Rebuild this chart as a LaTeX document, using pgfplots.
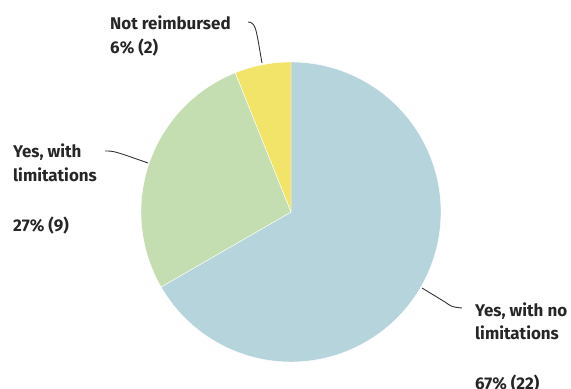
\documentclass[border=0pt]{standalone}
\usepackage{fontspec}
\setmainfont{Fira Sans}
\usepackage{pgfplots}
\pgfplotsset{compat=1.18}
\definecolor{sliceblue}{RGB}{182,212,220}
\definecolor{slicegreen}{RGB}{196,222,178}
\definecolor{sliceyellow}{RGB}{242,228,104}
\definecolor{leader}{RGB}{51,51,51}
\begin{document}
\begin{tikzpicture}
\useasboundingbox (0,0) rectangle (571bp,389bp);
\begin{axis}[
  at={(0,0)}, anchor=south west,
  scale only axis, width=571bp, height=389bp,
  xmin=0, xmax=571, ymin=0, ymax=389,
  hide axis, clip=false,
]
% values: Yes, with no limitations = 22; Yes, with limitations = 9; Not reimbursed = 2
\def\vA{22}\def\vB{9}\def\vC{2}
\def\tot{33}
\def\cx{291}\def\cy{177}\def\r{150}
\addplot[fill=sliceblue, draw=white, line width=0.4pt, domain={90-360*\vA/\tot}:90, samples=120, variable=\t]
  ({\cx+\r*cos(\t)},{\cy+\r*sin(\t)}) -- (axis cs:\cx,\cy) -- cycle;
\addplot[fill=slicegreen, draw=white, line width=0.4pt, domain={90-360*(\vA+\vB)/\tot}:{90-360*\vA/\tot}, samples=60, variable=\t]
  ({\cx+\r*cos(\t)},{\cy+\r*sin(\t)}) -- (axis cs:\cx,\cy) -- cycle;
\addplot[fill=sliceyellow, draw=white, line width=0.4pt, domain=-270:{90-360*(\vA+\vB)/\tot}, samples=20, variable=\t]
  ({\cx+\r*cos(\t)},{\cy+\r*sin(\t)}) -- (axis cs:\cx,\cy) -- cycle;
% leader lines
\draw[leader, line width=0.9pt] (axis cs:248,367) .. controls (axis cs:255,367) and (axis cs:256,359) .. (axis cs:258,349) -- (axis cs:262,326);
\draw[leader, line width=0.9pt] (axis cs:105,238) .. controls (axis cs:114,238) .. (axis cs:148,226);
\draw[leader, line width=0.9pt] (axis cs:422,101) -- (axis cs:445,87) .. controls (axis cs:452,82) .. (axis cs:462,81);
% labels
\tikzset{lab/.style={anchor=base west, inner sep=0pt, font=\fontsize{17}{20}\selectfont\bfseries, text=black!85}}
\node[lab] at (axis cs:110,359) {Not reimbursed};
\node[lab] at (axis cs:110,335) {6\% (2)};
\node[lab] at (axis cs:13,231) {Yes, with};
\node[lab] at (axis cs:13,207) {limitations};
\node[lab] at (axis cs:13,157) {27\% (9)};
\node[lab] at (axis cs:475,72) {Yes, with no};
\node[lab] at (axis cs:475,49) {limitations};
\node[lab] at (axis cs:475,0) {67\% (22)};
\end{axis}
\end{tikzpicture}
\end{document}
